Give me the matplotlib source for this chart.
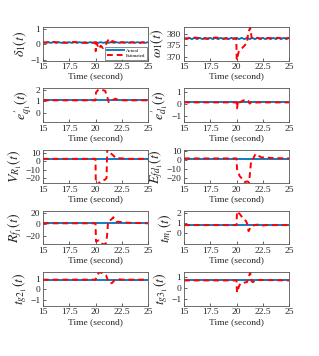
import numpy as np
import matplotlib
matplotlib.use("Agg")
import matplotlib.pyplot as plt

plt.rcParams['font.family'] = ['Liberation Serif', 'DejaVu Serif']
plt.rcParams['mathtext.fontset'] = 'stix'

# ---------------- data ----------------
ylabels = [r'$\delta_1(t)$', r'$\omega_1(t)$', r"$e_{q_1}^{\prime}(t)$", r"$e_{d_1}^{\prime}(t)$",
           r'$V_{R_1}(t)$', r'$E_{fd_1}(t)$', r'$R_{f_1}(t)$', r'$t_{m_1}(t)$',
           r'$t_{g2_1}(t)$', r'$t_{g3_1}(t)$']

xticks = [15, 17.5, 20, 22.5, 25]
xticklabels = ['15', '17.5', '20', '22.5', '25']

yticks_list = [[-1, 0, 1], [370, 375, 380], [0, 1, 2], [-1, 0, 1],
               [-20, -10, 0, 10], [-20, -10, 0, 10], [-20, 0, 20], [0, 1, 2],
               [-1, 0, 1], [-1, 0, 1]]
ylims = [(-1.05, 1.1), (368.3, 382.9), (-0.77, 2.15), (-1.5, 1.35),
         (-26, 14), (-26, 12), (-35, 23), (-1.1, 2.2),
         (-1.55, 1.6), (-1.6, 1.45)]

# actual trajectories
t_osc = [15.0, 15.25, 15.5, 15.75, 16.0, 16.25, 16.5, 16.75, 17.0, 17.25, 17.5,
         17.75, 18.0, 18.25, 18.5, 18.75, 19.0, 19.25, 19.5, 19.75, 20.0,
         20.25, 20.5, 20.75, 21.0, 21.25, 21.5, 21.75, 22.0, 22.25, 22.5,
         22.75, 23.0, 23.25, 23.5, 23.75, 24.0, 24.25, 24.5, 24.75, 25.0]
delta_act = [0.13, 0.08, 0.13, 0.08, 0.13, 0.08, 0.13, 0.08, 0.13, 0.08, 0.13,
             0.08, 0.13, 0.08, 0.13, 0.08, 0.13, 0.08, 0.13, 0.08, 0.13,
             0.08, 0.13, 0.08, 0.13, 0.08, 0.13, 0.08, 0.13, 0.08, 0.13,
             0.08, 0.13, 0.08, 0.13, 0.08, 0.13, 0.08, 0.13, 0.08, 0.13]
omega_act = [378.2, 377.6, 378.2, 377.6, 378.2, 377.6, 378.2, 377.6, 378.2, 377.6, 378.2,
             377.6, 378.2, 377.6, 378.2, 377.6, 378.2, 377.6, 378.2, 377.6, 378.2,
             377.6, 378.2, 377.6, 378.2, 377.6, 378.2, 377.6, 378.2, 377.6, 378.2,
             377.6, 378.2, 377.6, 378.2, 377.6, 378.2, 377.6, 378.2, 377.6, 378.2]
t_flat = [15.0, 25.0]
eq_act = [1.1, 1.1]
ed_act = [0.15, 0.15]
vr_act = [3.0, 3.0]
efd_act = [1.5, 1.5]
rf_act = [1.5, 1.5]
tm_act = [0.8, 0.8]
tg2_act = [0.9, 0.9]
tg3_act = [0.7, 0.7]

# estimated trajectories
delta_t = [15.0, 16.0, 17.0, 18.0, 19.0, 19.98, 20.02, 20.1, 20.3, 20.5, 20.7, 21.0, 21.2, 21.4, 21.6, 22.0, 23.0, 24.0, 25.0]
delta_e = [0.1, 0.14, 0.08, 0.14, 0.08, 0.1, -0.45, 0.1, -0.3, -0.1, -0.25, 0.0, 0.25, 0.05, 0.2, 0.1, 0.12, 0.1, 0.1]
omega_t = [15.0, 16.0, 17.0, 18.0, 19.0, 19.98, 20.02, 20.2, 20.5, 20.8, 21.0, 21.1, 21.3, 21.45, 21.7, 22.5, 23.5, 25.0]
omega_e = [377.8, 378.3, 377.8, 378.3, 377.8, 378.0, 368.5, 372.0, 373.5, 375.0, 376.0, 380.0, 382.7, 378.0, 378.3, 377.8, 378.2, 378.0]
eq_t = [15.0, 20.0, 20.05, 20.3, 20.6, 20.9, 21.1, 21.25, 21.4, 21.6, 21.9, 22.1, 22.5, 25.0]
eq_e = [1.1, 1.1, 1.8, 2.05, 2.0, 1.95, 1.5, 0.95, 1.0, 1.1, 1.25, 1.15, 1.1, 1.1]
ed_t = [15.0, 20.0, 20.05, 20.15, 20.3, 20.6, 20.9, 21.1, 21.25, 21.4, 21.6, 22.0, 25.0]
ed_e = [0.15, 0.15, -0.35, 0.3, 0.15, 0.3, 0.4, 0.3, 0.05, 0.15, 0.1, 0.15, 0.15]
vr_t = [15.0, 20.0, 20.03, 20.3, 20.6, 20.9, 21.05, 21.12, 21.4, 21.7, 21.9, 22.5, 23.0, 25.0]
vr_e = [3.0, 3.0, -28.0, -26.0, -23.0, -22.0, -20.0, 15.0, 10.0, 7.0, 4.0, 3.5, 3.0, 3.0]
efd_t = [15.0, 20.0, 20.05, 20.3, 20.6, 20.8, 21.0, 21.2, 21.4, 21.6, 21.8, 22.1, 22.4, 22.8, 23.2, 25.0]
efd_e = [2.0, 2.0, -10.0, -18.0, -22.0, -25.0, -24.0, -25.0, 0.0, 2.0, 7.0, 5.0, 3.0, 3.5, 2.5, 2.0]
rf_t = [15.0, 20.0, 20.05, 20.3, 20.5, 20.8, 21.0, 21.1, 21.2, 21.5, 21.7, 22.0, 22.3, 22.7, 23.2, 25.0]
rf_e = [1.5, 1.5, -30.0, -28.0, -33.0, -35.0, -33.0, -20.0, 5.0, 8.0, 12.0, 4.0, 4.0, 3.0, 2.5, 1.5]
tm_t = [15.0, 20.0, 20.05, 20.3, 20.6, 20.9, 21.05, 21.15, 21.3, 21.5, 22.0, 22.4, 22.8, 25.0]
tm_e = [0.8, 0.8, 2.15, 1.9, 1.5, 1.2, 0.85, 0.2, 0.5, 0.75, 0.85, 0.75, 0.8, 0.8]
tg2_t = [15.0, 20.0, 20.2, 20.4, 20.7, 21.0, 21.2, 21.4, 21.6, 21.8, 22.2, 22.5, 25.0]
tg2_e = [0.9, 0.9, 1.4, 1.6, 1.5, 1.3, 0.8, 0.55, 0.6, 0.85, 0.95, 0.9, 0.9]
tg3_t = [15.0, 20.0, 20.05, 20.25, 20.4, 20.7, 21.0, 21.15, 21.3, 21.45, 21.6, 21.8, 25.0]
tg3_e = [0.7, 0.7, -0.4, 0.2, 0.45, 0.5, 0.55, 1.0, 1.4, 0.6, 0.55, 0.75, 0.7]

actual = [(t_osc, delta_act), (t_osc, omega_act), (t_flat, eq_act), (t_flat, ed_act),
          (t_flat, vr_act), (t_flat, efd_act), (t_flat, rf_act), (t_flat, tm_act),
          (t_flat, tg2_act), (t_flat, tg3_act)]
estimated = [(delta_t, delta_e), (omega_t, omega_e), (eq_t, eq_e), (ed_t, ed_e),
             (vr_t, vr_e), (efd_t, efd_e), (rf_t, rf_e), (tm_t, tm_e),
             (tg2_t, tg2_e), (tg3_t, tg3_e)]

# ---------------- figure ----------------
W, H = 319, 356
fig = plt.figure(figsize=(W / 100, H / 100), dpi=100)

lefts = [43, 184]
width = 105
top0 = 27
pitch = 61.3
height = 33.5

blue = '#0072BD'
red = '#FF0000'
txtc = '#262626'

for i in range(10):
    r, c = divmod(i, 2)
    top = top0 + r * pitch
    ax = fig.add_axes([lefts[c] / W, 1 - (top + height) / H, width / W, height / H])
    ta, ya = actual[i]
    te, ye = estimated[i]
    ax.plot(ta, ya, color=blue, lw=1.3, label='Actual')
    ax.plot(te, ye, color=red, lw=1.4, ls=(0, (3, 2)), label='Estimated')
    ax.set_xlim(15, 25)
    ax.set_ylim(*ylims[i])
    ax.set_xticks(xticks)
    ax.set_xticklabels(xticklabels)
    ax.set_yticks(yticks_list[i])
    ax.tick_params(direction='in', length=2, width=0.5, labelsize=6.8,
                   colors=txtc, pad=2)
    for s in ax.spines.values():
        s.set_linewidth(0.6)
        s.set_color('#555555')
    ax.set_xlabel('Time (second)', fontsize=6.8, color=txtc, labelpad=1)
    ax.set_ylabel(ylabels[i], fontsize=10, color=txtc, labelpad=1)
    if i == 0:
        leg = ax.legend(loc='lower right', fontsize=3.5, handlelength=3.5,
                        frameon=True, fancybox=False, borderpad=0.3,
                        labelspacing=0.2, handletextpad=0.5,
                        borderaxespad=0.2)
        leg.get_frame().set_edgecolor('#333333')
        leg.get_frame().set_linewidth(0.5)

fig.savefig('out.png', dpi=100)
